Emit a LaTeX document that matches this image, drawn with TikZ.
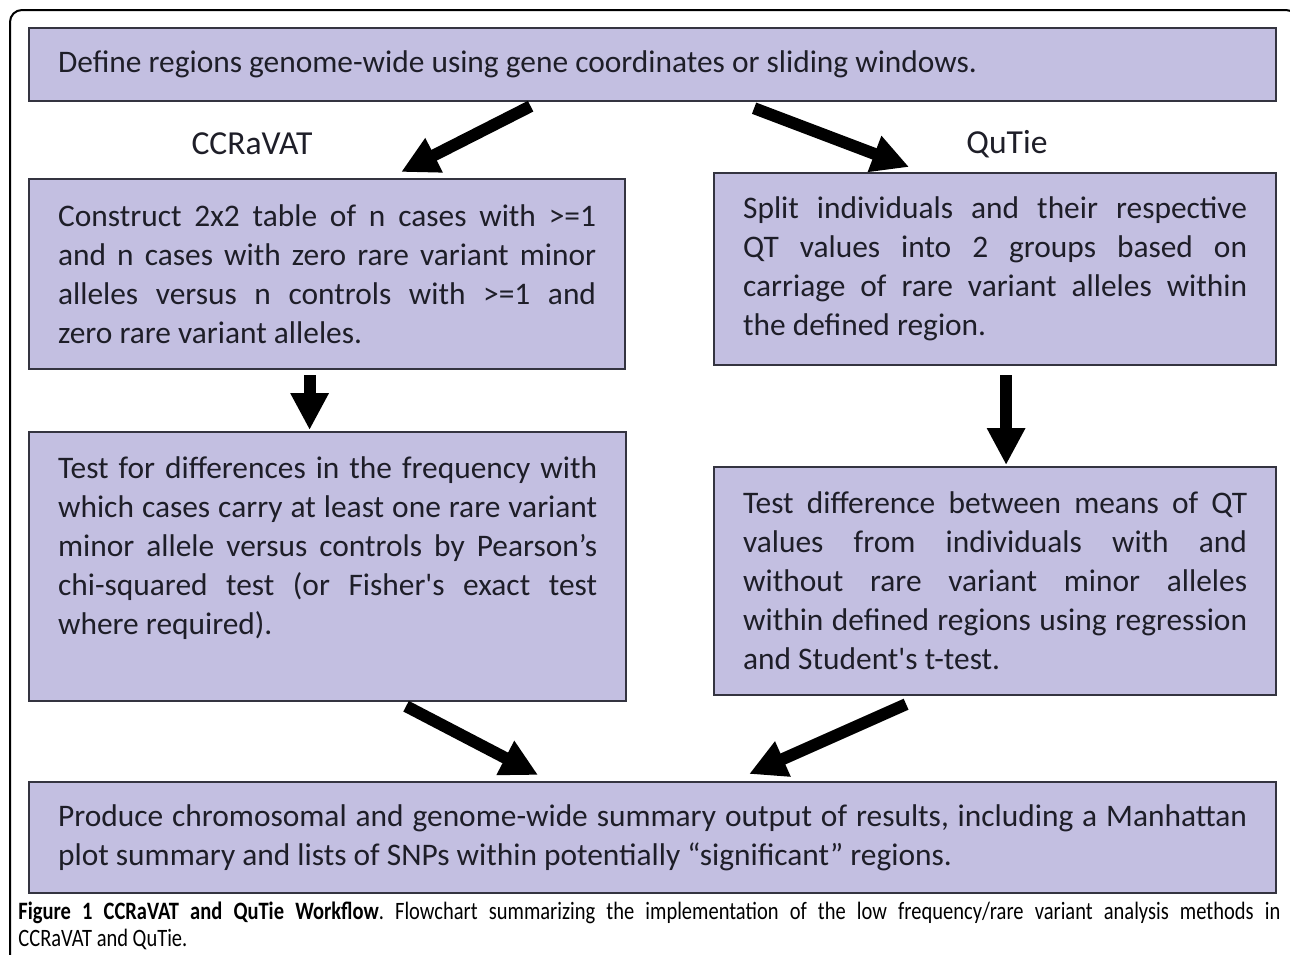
\documentclass[tikz,border=0pt]{standalone}
\usepackage{fontspec}
\usetikzlibrary{arrows.meta,calc}
\setmainfont{Carlito}
\newfontfamily\boxfont{Carlito}
\newfontfamily\captionfont[FakeStretch=0.82]{Carlito}
\definecolor{boxfill}{RGB}{195,191,225}
\definecolor{boxline}{RGB}{52,52,64}
\definecolor{textdark}{RGB}{30,30,40}
\tikzset{
  stagebox/.style={draw=boxline, line width=1.1pt, fill=boxfill, anchor=north west,
    inner xsep=14.5pt, inner ysep=4pt, align=justify, text=textdark,
    font=\boxfont\fontsize{15.7}{19.5}\selectfont},
  toollabel/.style={font=\boxfont\fontsize{16.8}{20}\selectfont, text=textdark},
  flowarrow/.style={line width=6pt, -{Triangle[length=18.5pt,width=18pt]}}
}
\begin{document}
\frenchspacing
\begin{tikzpicture}[x=0.5pt,y=-0.5pt]
	\useasboundingbox (0,0) rectangle (1290,954);
	\clip (0,0) rectangle (1290,954);
	% outer frame
	\draw[line width=1pt, rounded corners=6pt] (10,980) -- (10,10) -- (1298,10) -- (1298,980);
	% stages
	\node[stagebox, text width=594.5pt, minimum height=36.5pt] (defineBox) at (28,27)
	{Define regions genome-wide using gene coordinates or sliding windows.};
	\node[toollabel] (ccravatLabel) at (252,144) {CCRaVAT};
	\node[toollabel] (qutieLabel) at (1007,144) {QuTie};
	\node[stagebox, text width=269pt, minimum height=95pt] (ccrTable) at (28,178)
	{Construct 2x2 table of n cases with >=1\linebreak
	and n cases with zero rare variant minor\linebreak
	alleles versus n controls with >=1 and\linebreak
	zero rare variant alleles.};
	\node[stagebox, text width=252pt, minimum height=96pt] (qtSplit) at (713,172)
	{Split individuals and their respective\linebreak
	QT values into 2 groups based on\linebreak
	carriage of rare variant alleles within\linebreak
	the defined region.};
	\node[stagebox, text width=269.5pt, minimum height=134.5pt, text depth=99pt] (ccrTest) at (28,431)
	{Test for differences in the frequency with\linebreak
	which cases carry at least one rare variant\linebreak
	minor allele versus controls by Pearson’s\linebreak
	chi-squared test (or Fisher\textquotesingle s exact test\linebreak
	where required).};
	\node[stagebox, text width=252pt, minimum height=114pt] (qtTest) at (713,466)
	{Test difference between means of QT\linebreak
	values from individuals with and\linebreak
	without rare variant minor alleles\linebreak
	within defined regions using regression\linebreak
	and Student\textquotesingle s t-test.};
	\node[stagebox, text width=594.5pt, minimum height=55.5pt] (summaryBox) at (28,781)
	{Produce chromosomal and genome-wide summary output of results, including a Manhattan\linebreak
	plot summary and lists of SNPs within potentially “significant” regions.};
	% arrows
	\draw[flowarrow] ($(defineBox.south)+(-122,4)$) -- ($(ccrTable.north)+(74,-6)$);
	\draw[flowarrow] ($(defineBox.south)+(101.5,6)$) -- ($(qtSplit.north)+(-86,-5)$);
	\draw[flowarrow] ($(ccrTable.south)+(-17.5,5)$) -- ($(ccrTest.north)+(-18,-1)$);
	\draw[flowarrow] ($(qtSplit.south)+(11,9)$) -- ($(qtTest.north)+(11,-1)$);
	\draw[flowarrow] ($(ccrTest.south)+(78.5,4)$) -- ($(summaryBox.north)+(-114.5,-6)$);
	\draw[flowarrow] ($(qtTest.south)+(-89,8)$) -- ($(summaryBox.north)+(96.5,-7)$);
	% caption
	\node[anchor=north west, inner sep=0pt, text width=631pt, align=justify,
	font=\captionfont\fontsize{12.5}{13.5}\selectfont] (caption) at (18,902)
	{\textbf{Figure 1 CCRaVAT and QuTie Workflow}. Flowchart summarizing the implementation of the low frequency/rare variant analysis methods in\linebreak
	CCRaVAT and QuTie.};
\end{tikzpicture}
\end{document}
